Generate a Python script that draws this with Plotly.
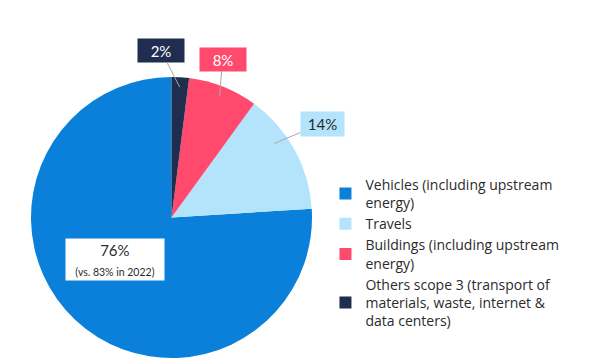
import math
import plotly.graph_objects as go

# Scope 3 emissions breakdown
categories = [
    "Vehicles (including upstream<br>energy)",
    "Travels",
    "Buildings (including upstream<br>energy)",
    "Others scope 3 (transport of<br>materials, waste, internet &<br>data centers)",
]
shares = [76, 14, 8, 2]
colors = ["#0A80DB", "#B3E4FC", "#FF4A6E", "#1F2D4E"]

W, H = 595, 359
dom_x = [31 / W, 312 / W]
dom_y = [1 / H, 282 / H]

total = sum(shares)
# Vehicles runs counterclockwise round to 12 o'clock; the small slices sit top-right
start_rot = (total - shares[0]) / total * 360

fig = go.Figure(
    go.Pie(
        labels=categories,
        values=shares,
        marker=dict(colors=colors, line=dict(width=0)),
        sort=False,
        direction="counterclockwise",
        rotation=start_rot,
        textinfo="none",
        hoverinfo="label+percent",
        domain=dict(x=dom_x, y=dom_y),
    )
)

# pie geometry in pixels, used to anchor the value labels
cx = (dom_x[0] + dom_x[1]) / 2 * W
cy = H - (dom_y[0] + dom_y[1]) / 2 * H
R = min(dom_x[1] - dom_x[0], (dom_y[1] - dom_y[0]) * H / W) * W / 2

# clockwise angle (from 12 o'clock) of each slice's middle
mid_angle = {}
acc = 0.0
for cat, v in zip(reversed(categories), reversed(shares)):
    mid_angle[cat] = (acc + v / 2) / total * 360
    acc += v


def anchor(cat, frac, tilt=0.0):
    a = math.radians(mid_angle[cat] + tilt)
    px = cx + frac * R * math.sin(a)
    py = cy - frac * R * math.cos(a)
    return px / W, 1 - py / H


font_family = "Lato, 'Open Sans', sans-serif"

# label style per slice:
# (radius fraction, angle tilt, dx, dy, box width, box height, bg, text colour)
label_style = {
    categories[3]: (0.93, 0, -19, -37, 40, 17, colors[3], "#FFFFFF"),
    categories[2]: (0.93, 0, 3, -37, 40, 17, colors[2], "#FFFFFF"),
    categories[1]: (0.90, -7, 48, -20, 37, 18, colors[1], "#2B2B2B"),
}

for cat, (frac, tilt, dx, dy, bw, bh, bg, fc) in label_style.items():
    x, y = anchor(cat, frac, tilt)
    v = shares[categories.index(cat)]
    fig.add_annotation(
        x=x, y=y, xref="paper", yref="paper",
        text=f"{v}%",
        showarrow=True, arrowhead=0, arrowwidth=1, arrowcolor="#A8A8A8",
        ax=dx, ay=dy, standoff=0,
        bgcolor=bg, width=bw, height=bh, borderpad=3,
        font=dict(family=font_family, size=15, color=fc),
    )

# main slice label with comparison to previous year
x, y = anchor(categories[0], 0.5)
fig.add_annotation(
    x=x, y=y, xref="paper", yref="paper",
    xanchor="center", yanchor="middle",
    xshift=-8, yshift=9,
    text=f"{shares[0]}%<br><span style='font-size:10.5px'>(vs. 83% in 2022)</span>",
    showarrow=False,
    bgcolor="#FFFFFF", width=94, height=37, borderpad=2,
    font=dict(family=font_family, size=15, color="#2B2B2B"),
)

fig.update_layout(
    width=W, height=H,
    margin=dict(l=0, r=0, t=0, b=0),
    paper_bgcolor="#FFFFFF",
    plot_bgcolor="#FFFFFF",
    showlegend=True,
    legend=dict(
        x=0.547, y=0.53, xanchor="left", yanchor="top",
        font=dict(family="'Open Sans', Lato, sans-serif", size=14, color="#2B2B2B"),
        itemclick=False, itemdoubleclick=False,
        tracegroupgap=0,
    ),
)

fig.write_html("out.html")
